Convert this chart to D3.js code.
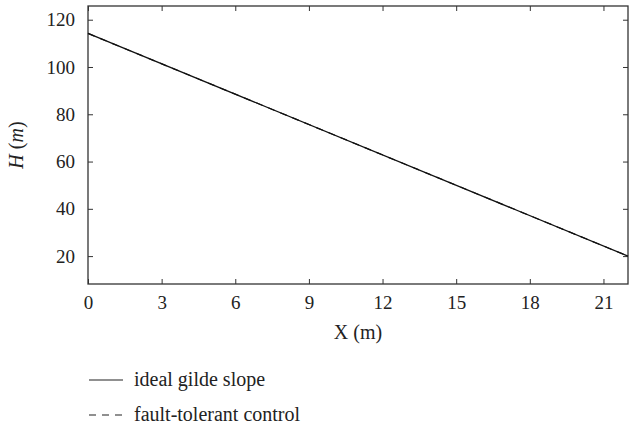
<!DOCTYPE html>
<html><head><meta charset="utf-8">
<script src="https://cdn.jsdelivr.net/npm/d3@7"></script>
<style>body{margin:0;background:#fff}svg{display:block}svg text{font-family:'Liberation Serif',serif !important;fill:#222}</style>
</head><body><svg id="c" width="637" height="425"></svg>
<script>
const xTicks=[0,3,6,9,12,15,18,21];
const yTicks=[20,40,60,80,100,120];
const idealX=[0,22];
const idealH=[114.2,20];
const ftcX=[0,22];
const ftcH=[114.2,20];
const legendLabels=["ideal gilde slope","fault-tolerant control"];

const FF="'Liberation Serif', serif";
const svg=d3.select("#c");
const L=88,R=628,T=6,B=284;
const x=d3.scaleLinear().domain([0,22]).range([L,R]);
const y=d3.scaleLinear().domain([8.2,125.8]).range([B,T]);

const g=svg.append("g");
g.append("rect").attr("x",L).attr("y",T).attr("width",R-L).attr("height",B-T)
 .attr("fill","none").attr("stroke","#333").attr("stroke-width",1.3);

const xa=g.append("g").attr("transform",`translate(0,${B})`)
 .call(d3.axisBottom(x).tickValues(xTicks).tickSizeInner(-5).tickSizeOuter(0).tickPadding(11.5));
const ya=g.append("g").attr("transform",`translate(${L},0)`)
 .call(d3.axisLeft(y).tickValues(yTicks).tickSizeInner(-5).tickSizeOuter(0).tickPadding(13));
[xa,ya].forEach(a=>{a.attr("font-family",null).attr("font-size",19);
 a.select(".domain").remove();a.selectAll("line").attr("stroke","#333").attr("stroke-width",1);
 a.selectAll("text").style("font-family",FF).attr("font-size",19).attr("fill","#222");});
g.append("g").attr("transform",`translate(0,${T})`).call(d3.axisTop(x).tickValues(xTicks).tickSizeInner(-5).tickSizeOuter(0).tickFormat(""))
 .call(a=>{a.select(".domain").remove();a.selectAll("line").attr("stroke","#333");});
g.append("g").attr("transform",`translate(${R},0)`).call(d3.axisRight(y).tickValues(yTicks).tickSizeInner(-5).tickSizeOuter(0).tickFormat(""))
 .call(a=>{a.select(".domain").remove();a.selectAll("line").attr("stroke","#333");});

const line=d3.line().x(d=>x(d[0])).y(d=>y(d[1]));
g.append("path").datum(idealX.map((v,i)=>[v,idealH[i]])).attr("d",line)
 .attr("fill","none").attr("stroke","#111").attr("stroke-width",1.3);
g.append("path").datum(ftcX.map((v,i)=>[v,ftcH[i]])).attr("d",line)
 .attr("fill","none").attr("stroke","#111").attr("stroke-width",1.2).attr("stroke-dasharray","7,6");

svg.append("text").attr("x",(L+R)/2).attr("y",339).attr("text-anchor","middle").attr("font-size",20).style("font-family",FF).text("X (m)");
const yt=svg.append("text").attr("transform",`translate(23,${(T+B)/2}) rotate(-90)`).attr("text-anchor","middle").attr("font-size",20).style("font-family",FF);
yt.append("tspan").attr("font-style","italic").text("H");
yt.append("tspan").text(" (");
yt.append("tspan").attr("font-style","italic").text("m");
yt.append("tspan").text(")");

const lg=svg.append("g");
legendLabels.forEach((t,i)=>{
 const yy=380+i*35;
 lg.append("line").attr("x1",89).attr("x2",123).attr("y1",yy).attr("y2",yy).attr("stroke","#222").attr("stroke-width",1.2)
  .attr("stroke-dasharray",i===1?"7,6":null);
 lg.append("text").attr("x",134).attr("y",yy+5.5).attr("font-size",20).style("font-family",FF).text(t);
});
</script></body></html>
